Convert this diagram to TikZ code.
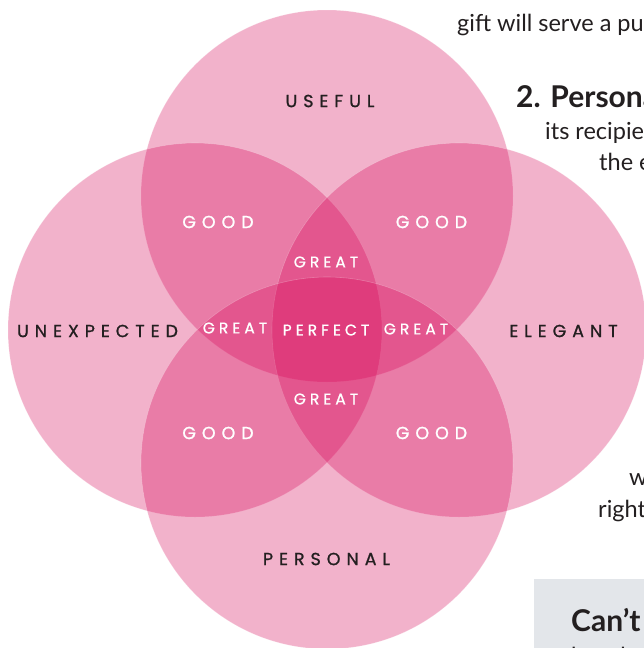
\documentclass[tikz,border=0pt]{standalone}
\usepackage{fontspec}
\setmainfont{Lato}
\newfontfamily\labfont[LetterSpace=34,FakeBold=1]{Poppins}
\newfontfamily\labfontsm[LetterSpace=26,FakeBold=1]{Poppins}
\newfontfamily\bodyfont{Lato}
\definecolor{petal}{RGB}{215,0,85}
\definecolor{ink}{RGB}{35,31,32}
\definecolor{boxgray}{RGB}{227,230,234}
\tikzset{
  petalfill/.style={fill=petal, fill opacity=0.3, draw=white, draw opacity=0.25, line width=0.6pt},
  biglab/.style={font=\labfont\fontsize{17.5}{18}\selectfont, inner sep=0pt, text=ink},
  goodlab/.style={font=\labfont\fontsize{17.5}{18}\selectfont, inner sep=0pt, text=white},
  smlab/.style={font=\labfontsm\fontsize{15.5}{16}\selectfont, inner sep=0pt, text=white},
  bodytxt/.style={font=\bodyfont\fontsize{23.5}{26}\selectfont, inner sep=0pt, text=ink, anchor=base west},
  headtxt/.style={font=\bodyfont\bfseries\fontsize{30}{32}\selectfont, inner sep=0pt, text=ink, anchor=base west}
}
\begin{document}
\begin{tikzpicture}[x=1pt,y=-1pt]
\path[use as bounding box, clip] (0,0) rectangle (644,648);
\fill[white] (0,0) rectangle (644,648);
% gray box
\fill[boxgray] (534,579) rectangle (660,660);
% circles
\path[petalfill] (327,196) circle[radius=186pt];
\path[petalfill] (195,330) circle[radius=187pt];
\path[petalfill] (459,330) circle[radius=187pt];
\path[petalfill] (327,463) circle[radius=186pt];
% labels
\node[biglab] (useful) at (330,101) {USEFUL};
\node[biglab] (unexp) at (97.5,331) {UNEXPECTED};
\node[biglab] (elegant) at (563.5,331) {ELEGANT};
\node[biglab] (personal) at (326.5,559) {PERSONAL};
\node[goodlab] (g1) at (218,222) {GOOD};
\node[goodlab] (g2) at (431.5,222) {GOOD};
\node[goodlab] (g3) at (218,433) {GOOD};
\node[goodlab] (g4) at (431.5,433) {GOOD};
\node[smlab] (gt) at (326,262) {GREAT};
\node[smlab] (gb) at (326,399) {GREAT};
\node[smlab] (gl) at (235,328) {GREAT};
\node[smlab] (gr) at (416,329) {GREAT};
\node[smlab] (perfect) at (326,330) {PERFECT};
% side text
\node[bodytxt] (t1) at (457,31) {gift will serve a pu};
\node[headtxt] (t2) at (516,107) {2. Persona};
\node[bodytxt] (t3) at (545,139) {its recipie};
\node[bodytxt] (t4) at (599,170) {the e};
\node[bodytxt] (t5) at (629,485) {w};
\node[bodytxt] (t6) at (598,517) {right};
\node[headtxt] (t7) at (571,631) {Can’t};
\node[bodytxt] (t8) at (571,664) {but th};
\end{tikzpicture}
\end{document}
